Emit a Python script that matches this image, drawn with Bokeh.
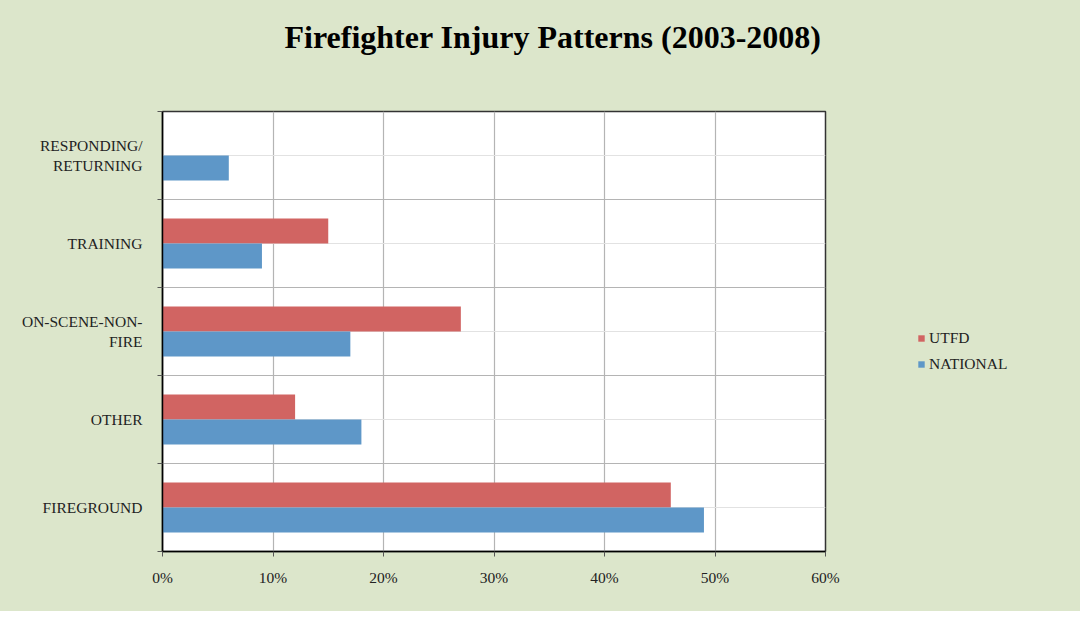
import numpy as np
from bokeh.plotting import figure
from bokeh.layouts import row
from bokeh.models import (ColumnDataSource, FixedTicker, PrintfTickFormatter,
                          Legend, LegendItem, Range1d)
from bokeh.transform import dodge
from bokeh.embed import file_html
from bokeh.resources import INLINE

# ---- data ----
categories = ["FIREGROUND", "OTHER", "ON-SCENE-NON-\nFIRE", "TRAINING", "RESPONDING/\nRETURNING"]
series_names = ["UTFD", "NATIONAL"]
utfd = [46, 12, 27, 15, 0]
national = [49, 18, 17, 9, 6]
x_ticks = [0, 10, 20, 30, 40, 50, 60]

BG = "#dce6cb"
RED = "#d16462"
BLUE = "#5e97c8"
FONT = "Liberation Serif"

ypos = list(np.arange(len(categories)) + 0.5)
src = ColumnDataSource(dict(y=ypos, utfd=utfd, national=national))

p = figure(width=840, height=611, output_backend="svg", toolbar_location=None,
           x_range=Range1d(0, 60), y_range=Range1d(0, len(categories)),
           min_border_left=162, min_border_right=15, min_border_top=111,
           min_border_bottom=60)
p.styles = {"background-color": BG}
p.background_fill_color = "white"
p.border_fill_color = BG
p.outline_line_color = "#333333"
p.outline_line_width = 1.5

p.title.text = "Firefighter Injury Patterns (2003-2008)"
p.title.text_font = FONT
p.title.text_font_size = "32px"
p.title.text_font_style = "bold"
p.title.text_color = "black"
p.title.align = "left"
p.title.offset = 122
p.title.vertical_align = "bottom"
p.title.standoff = 0
p.title.padding = dict(left=0, right=0, top=0, bottom=57)

bh = 0.284
r1 = p.hbar(y=dodge("y", bh / 2), right="utfd", left=0, height=bh, source=src,
            fill_color=RED, line_color=None)
r2 = p.hbar(y=dodge("y", -bh / 2), right="national", left=0, height=bh, source=src,
            fill_color=BLUE, line_color=None)

# x axis
xa = p.xaxis[0]
xa.ticker = FixedTicker(ticks=x_ticks)
xa.formatter = PrintfTickFormatter(format="%d%%")
xa.axis_line_color = "black"
xa.axis_line_width = 1.5
xa.major_tick_out = 5
xa.major_tick_in = 0
xa.major_tick_line_color = "#555555"
xa.minor_tick_line_color = None
xa.major_label_text_font = FONT
xa.major_label_text_font_size = "15.5px"
xa.major_label_text_color = "#222222"
xa.major_label_standoff = 12

# y axis
ya = p.yaxis[0]
ya.ticker = FixedTicker(ticks=ypos, minor_ticks=list(range(len(categories) + 1)))
ya.major_label_overrides = {float(y): c for y, c in zip(ypos, categories)}
ya.axis_line_color = "black"
ya.axis_line_width = 1.5
ya.major_tick_line_color = None
ya.minor_tick_out = 5
ya.minor_tick_in = 0
ya.minor_tick_line_color = "#555555"
ya.major_label_text_font = FONT
ya.major_label_text_font_size = "15.5px"
ya.major_label_text_color = "#222222"
ya.major_label_standoff = 14

# grids
p.xgrid.ticker = FixedTicker(ticks=x_ticks)
p.xgrid.grid_line_color = "#b4b4b4"
p.xgrid.grid_line_width = 1.2
p.ygrid.grid_line_color = "#e2e2e2"
p.ygrid.grid_line_width = 1.2
p.ygrid.minor_grid_line_color = "#b4b4b4"
p.ygrid.minor_grid_line_width = 1.2

# ---- legend panel (right side of the chart area) ----
lf = figure(width=240, height=611, output_backend="svg", toolbar_location=None,
            x_range=Range1d(-2, -1), y_range=Range1d(0, len(categories)),
            x_axis_location=None, y_axis_location=None,
            min_border=0)
lf.styles = {"background-color": BG}
lf.background_fill_color = BG
lf.border_fill_color = BG
lf.outline_line_color = None
lf.grid.visible = False
# legend swatches reuse the same series (kept out of this panel's view)
lr1 = lf.hbar(y="y", right="utfd", left=0, height=bh, source=src,
              fill_color=RED, line_color=None)
lr2 = lf.hbar(y="y", right="national", left=0, height=bh, source=src,
              fill_color=BLUE, line_color=None)

legend = Legend(items=[LegendItem(label=series_names[0], renderers=[lr1]),
                       LegendItem(label=series_names[1], renderers=[lr2])],
                location=(77, 177), orientation="vertical")
legend.background_fill_alpha = 0
legend.border_line_color = None
legend.padding = 0
legend.margin = 0
legend.glyph_width = 8
legend.glyph_height = 8
legend.label_height = 20
legend.spacing = 6
legend.label_standoff = 4
legend.label_text_font = FONT
legend.label_text_font_size = "15.5px"
legend.label_text_color = "#222222"
lf.add_layout(legend, "center")

layout = row(p, lf, spacing=0)
layout.styles = {"background-color": BG}
open("out.html", "w").write(file_html(layout, INLINE))
